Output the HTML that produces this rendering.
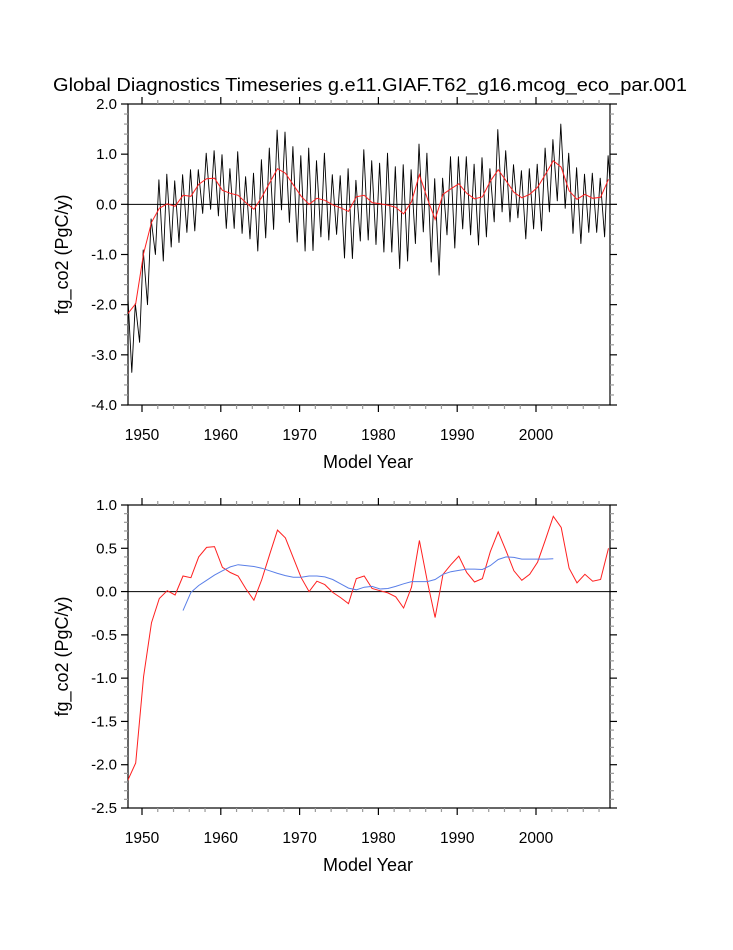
<!DOCTYPE html>
<html><head><meta charset="utf-8"><style>
html,body{margin:0;padding:0;background:#fff}
svg text{font-family:"Liberation Sans",Arial,sans-serif;fill:#000}
</style></head><body>
<svg id="chart" width="733" height="945" viewBox="0 0 733 945" xmlns="http://www.w3.org/2000/svg">
<defs><clipPath id="clipT"><rect x="128" y="104" width="482" height="301"/></clipPath><clipPath id="clipB"><rect x="128" y="505" width="482" height="303"/></clipPath></defs>
<text x="370" y="91" font-size="18" text-anchor="middle" textLength="634" lengthAdjust="spacingAndGlyphs">Global Diagnostics Timeseries g.e11.GIAF.T62_g16.mcog_eco_par.001</text>
<g id="top"></g>
<g id="bot"></g>
</svg>
<script>
const years = [];
for (let y = 1948; y <= 2009; y++) years.push(y);
const annualMean = [-2.18,-1.98,-0.98,-0.36,-0.08,0.01,-0.04,0.18,0.16,0.40,0.51,0.52,0.28,0.22,0.18,0.03,-0.10,0.14,0.43,0.71,0.62,0.39,0.16,0.0,0.12,0.08,-0.01,-0.07,-0.14,0.15,0.18,0.035,0.01,-0.015,-0.06,-0.19,0.05,0.59,0.12,-0.30,0.20,0.31,0.41,0.22,0.11,0.15,0.46,0.69,0.47,0.24,0.13,0.20,0.34,0.60,0.87,0.74,0.27,0.10,0.20,0.12,0.14,0.50];
const annualMax = [-1.65,-1.98,-0.91,-0.29,0.49,0.60,0.47,0.59,0.69,0.69,1.02,1.07,0.99,0.71,1.05,0.55,0.62,0.89,1.12,1.48,1.44,1.15,0.97,1.12,0.87,1.02,0.59,0.57,0.71,0.48,1.09,0.87,0.82,1.02,0.75,0.79,0.69,1.20,1.02,0.51,0.52,0.95,0.95,0.95,0.80,0.93,0.71,1.49,1.07,0.79,0.67,0.71,0.80,1.12,1.29,1.60,1.02,0.73,0.60,0.62,0.52,0.97];
const annualMin = [-3.35,-2.75,-2.00,-1.00,-1.13,-0.85,-0.76,-0.56,-0.53,-0.18,-0.10,-0.23,-0.48,-0.48,-0.58,-0.69,-0.93,-0.67,-0.50,-0.11,-0.36,-0.75,-0.93,-0.92,-0.65,-0.71,-0.60,-1.07,-1.08,-0.73,-0.71,-0.80,-0.95,-0.95,-1.28,-1.13,-0.78,-0.55,-1.15,-1.41,-0.61,-0.87,-0.49,-0.61,-0.81,-0.65,-0.35,-0.15,-0.35,-0.27,-0.69,-0.49,-0.53,-0.15,0.07,-0.08,-0.58,-0.78,-0.56,-0.56,-0.65,-0.16];
const runYears = [];
for (let y = 1955; y <= 2002; y++) runYears.push(y);
const runMean = [-0.22,-0.01,0.07,0.13,0.19,0.24,0.285,0.31,0.30,0.29,0.27,0.24,0.21,0.185,0.165,0.165,0.18,0.18,0.17,0.14,0.09,0.04,0.02,0.05,0.06,0.03,0.035,0.06,0.09,0.115,0.115,0.115,0.14,0.20,0.23,0.245,0.26,0.26,0.255,0.30,0.37,0.40,0.395,0.375,0.375,0.375,0.375,0.38];
const xTicks = [1950,1960,1970,1980,1990,2000];
const topYTicks = [-4,-3,-2,-1,0,1,2];
const botYTicks = [-2.5,-2,-1.5,-1,-0.5,0,0.5,1];

const NS = "http://www.w3.org/2000/svg";
const L = 128, R = 610;
const xs = v => 142 + (v - 1950) * 7.88;
function mk(tag, attrs, parent) {
  const e = document.createElementNS(NS, tag);
  for (const k in attrs) e.setAttribute(k, attrs[k]);
  parent.appendChild(e);
  return e;
}
function panel(g, T, B, ymin, ymax, yTicks, minorStep, fmt) {
  const ys = v => B - (v - ymin) / (ymax - ymin) * (B - T);
  const fr = mk('rect', {x:L, y:T, width:R-L, height:B-T, fill:'none', stroke:'#000', 'stroke-width':1.2}, g);
  
  
  for (let yr = 1950; yr <= 2010; yr += 2) {
    const x = xs(yr); if (x > R) continue;
    const maj = (yr % 10 === 0), len = maj ? 7 : 4;
    const c = maj ? '#000' : '#999';
    mk('line', {x1:x, x2:x, y1:B, y2:B+len, stroke:c, 'stroke-width':1.2}, g);
    mk('line', {x1:x, x2:x, y1:T, y2:T-len, stroke:c, 'stroke-width':1.2}, g);
  }
  xTicks.forEach(v => {
    const t = mk('text', {x:xs(v), y:B+35, 'font-size':15.5, 'text-anchor':'middle'}, g);
    t.textContent = v;
    
    
  });
  const n = Math.round((ymax - ymin) / minorStep);
  for (let i = 0; i <= n; i++) {
    const v = ymin + i * minorStep, y = ys(v);
    const maj = yTicks.some(t => Math.abs(t - v) < 1e-6), len = maj ? 7 : 4;
    const c = maj ? '#000' : '#999';
    mk('line', {x1:L, x2:L-len, y1:y, y2:y, stroke:c, 'stroke-width':1.2}, g);
    mk('line', {x1:R, x2:R+len, y1:y, y2:y, stroke:c, 'stroke-width':1.2}, g);
  }
  yTicks.forEach(v => {
    const t = mk('text', {x:L-11, y:ys(v)+5, 'font-size':15, 'text-anchor':'end'}, g);
    t.textContent = fmt(v);
    
    
  });
  const zl = mk('line', {x1:L, x2:R, y1:ys(0), y2:ys(0), stroke:'#000', 'stroke-width':1}, g);
  
  
  const xl = mk('text', {x:368, y:B+63, 'font-size':18, 'text-anchor':'middle'}, g);
  xl.textContent = 'Model Year';
  
  
  const cy = (T + B) / 2;
  const yl = mk('text', {x:0, y:0, 'font-size':18, 'text-anchor':'middle', transform:`translate(68,${cy}) rotate(-90)`}, g);
  yl.textContent = 'fg_co2 (PgC/y)';
  
  
  return ys;
}
const fmt1 = v => v.toFixed(1);
const topG = document.getElementById('top');
const ysT = panel(topG, 104, 405, -4, 2, topYTicks, 0.2, fmt1);
let d = '';
years.forEach((yr, i) => {
  const p1 = [xs(yr + 0.15), ysT(annualMax[i])], p2 = [xs(yr + 0.7), ysT(annualMin[i])];
  d += (i === 0 ? 'M' : 'L') + p1[0].toFixed(1) + ',' + p1[1].toFixed(1) + 'L' + p2[0].toFixed(1) + ',' + p2[1].toFixed(1);
});
const ml = mk('path', {d:d, fill:'none', stroke:'#000', 'stroke-width':0.9, 'stroke-linejoin':'round', 'clip-path':'url(#clipT)'}, topG);


const redPts = years.map((yr, i) => xs(yr + 0.2).toFixed(1) + ',' + ysT(annualMean[i]).toFixed(1)).join(' ');
const rl = mk('polyline', {points:redPts, fill:'none', stroke:'#ff2020', 'stroke-width':1, 'clip-path':'url(#clipT)'}, topG);



const botG = document.getElementById('bot');
const ysB = panel(botG, 505, 808, -2.5, 1, botYTicks, 0.1, fmt1);
const bp = years.map((yr, i) => xs(yr + 0.2).toFixed(1) + ',' + ysB(annualMean[i]).toFixed(1)).join(' ');
const br = mk('polyline', {points:bp, fill:'none', stroke:'#ff2020', 'stroke-width':1, 'clip-path':'url(#clipB)'}, botG);


const rp = runYears.map((yr, i) => xs(yr + 0.2).toFixed(1) + ',' + ysB(runMean[i]).toFixed(1)).join(' ');
const bl = mk('polyline', {points:rp, fill:'none', stroke:'#5a7fe8', 'stroke-width':1, 'clip-path':'url(#clipB)'}, botG);


</script>
</body></html>
